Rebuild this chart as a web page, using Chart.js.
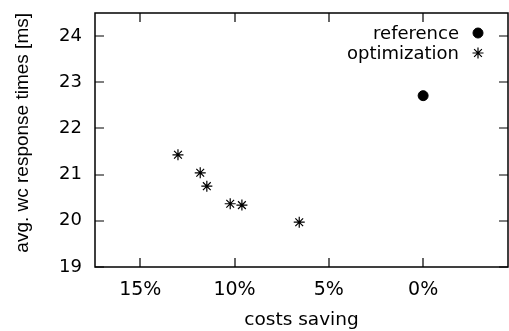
<!DOCTYPE html>
<html>
<head>
<meta charset="utf-8">
<script src="https://cdn.jsdelivr.net/npm/chart.js@4"></script>
<style>
html,body{margin:0;padding:0;background:#fff;}
#wrap{width:509px;height:331px;position:relative;}
</style>
</head>
<body>
<div id="wrap"><canvas id="c" width="509" height="331"></canvas></div>
<script>
// ---- data ----
const referenceX = [0.0];
const referenceY = [22.71];
const optimizationX = [13.0, 11.82, 11.47, 10.23, 9.61, 6.57];
const optimizationY = [21.43, 21.04, 20.75, 20.37, 20.34, 19.97];
const xTicks = [15, 10, 5, 0];
const yTicks = [19, 20, 21, 22, 23, 24];
const seriesLabels = ['reference', 'optimization'];
const xTitle = 'costs saving';
const yTitle = 'avg. wc response times [ms]';

const FONT = '"DejaVu Sans", "Liberation Sans", Arial, sans-serif';
const VFONT = '"Liberation Sans", Arial, Helvetica, sans-serif';

const toPts = (xs, ys) => xs.map((x, i) => ({x: x, y: ys[i]}));

const frame = {
  id: 'frame',
  afterDatasetsDraw(chart) {
    const {ctx, chartArea: a, scales} = chart;
    ctx.save();
    ctx.strokeStyle = '#000';
    ctx.lineWidth = 1.5;
    ctx.strokeRect(a.left, a.top, a.right - a.left, a.bottom - a.top);
    const tl = 9;
    ctx.lineWidth = 1.2;
    ctx.beginPath();
    xTicks.forEach(v => {
      const px = Math.round(scales.x.getPixelForValue(v));
      ctx.moveTo(px, a.bottom); ctx.lineTo(px, a.bottom - tl);
      ctx.moveTo(px, a.top); ctx.lineTo(px, a.top + tl);
    });
    yTicks.forEach(v => {
      const py = Math.round(scales.y.getPixelForValue(v));
      ctx.moveTo(a.left, py); ctx.lineTo(a.left + tl, py);
      ctx.moveTo(a.right, py); ctx.lineTo(a.right - tl, py);
    });
    ctx.stroke();
    // legend (gnuplot style: text right-aligned, marker at right)
    const mx = 478, rowY = [33, 53];
    ctx.font = '18px ' + FONT;
    ctx.textAlign = 'right';
    ctx.textBaseline = 'middle';
    chart.data.datasets.forEach((ds, i) => {
      ctx.fillStyle = '#000';
      ctx.fillText(ds.label, 459, rowY[i] + 1);
      ctx.lineWidth = ds.borderWidth;
      ctx.strokeStyle = '#000';
      Chart.helpers.drawPoint(ctx, {pointStyle: ds.pointStyle, radius: ds.pointRadius, borderWidth: ds.borderWidth, rotation: 0}, mx, rowY[i]);
    });
    ctx.restore();
  }
};

new Chart(document.getElementById('c'), {
  type: 'scatter',
  data: {
    datasets: [
      {label: seriesLabels[0], data: toPts(referenceX, referenceY), pointStyle: 'circle', pointRadius: 5, pointHoverRadius: 5, backgroundColor: '#000', borderColor: '#000', borderWidth: 1},
      {label: seriesLabels[1], data: toPts(optimizationX, optimizationY), pointStyle: 'star', pointRadius: 5.5, pointHoverRadius: 5.5, backgroundColor: '#000', borderColor: '#000', borderWidth: 1.2}
    ]
  },
  plugins: [frame],
  options: {
    responsive: false,
    animation: false,
    devicePixelRatio: 1,
    layout: {autoPadding: false, padding: {top: 13, right: 1, left: 0, bottom: 0}},
    plugins: {legend: {display: false}, tooltip: {enabled: false}},
    scales: {
      x: {
        type: 'linear',
        reverse: true,
        min: -4.5,
        max: 17.4,
        afterBuildTicks: s => { s.ticks = xTicks.map(v => ({value: v})); },
        afterFit: s => { s.height = 64; s.paddingLeft = 0; s.paddingRight = 0; },
        grid: {display: false, drawTicks: false},
        border: {display: false},
        ticks: {padding: 12, color: '#000', font: {family: FONT, size: 19}, callback: v => v + '%', maxRotation: 0},
        title: {display: true, text: xTitle, color: '#000', font: {family: FONT, size: 18.5}, padding: {top: 0, bottom: 0}}
      },
      y: {
        type: 'linear',
        min: 19,
        max: 24.5,
        afterBuildTicks: s => { s.ticks = yTicks.map(v => ({value: v})); },
        afterFit: s => { s.width = 95; s.paddingTop = 0; s.paddingBottom = 0; },
        grid: {display: false, drawTicks: false},
        border: {display: false},
        ticks: {padding: 13, color: '#000', font: {family: FONT, size: 18}},
        title: {display: true, text: yTitle, align: 'end', color: '#000', font: {family: VFONT, size: 19}, padding: {top: 11, bottom: 0}}
      }
    }
  }
});
</script>
</body>
</html>
